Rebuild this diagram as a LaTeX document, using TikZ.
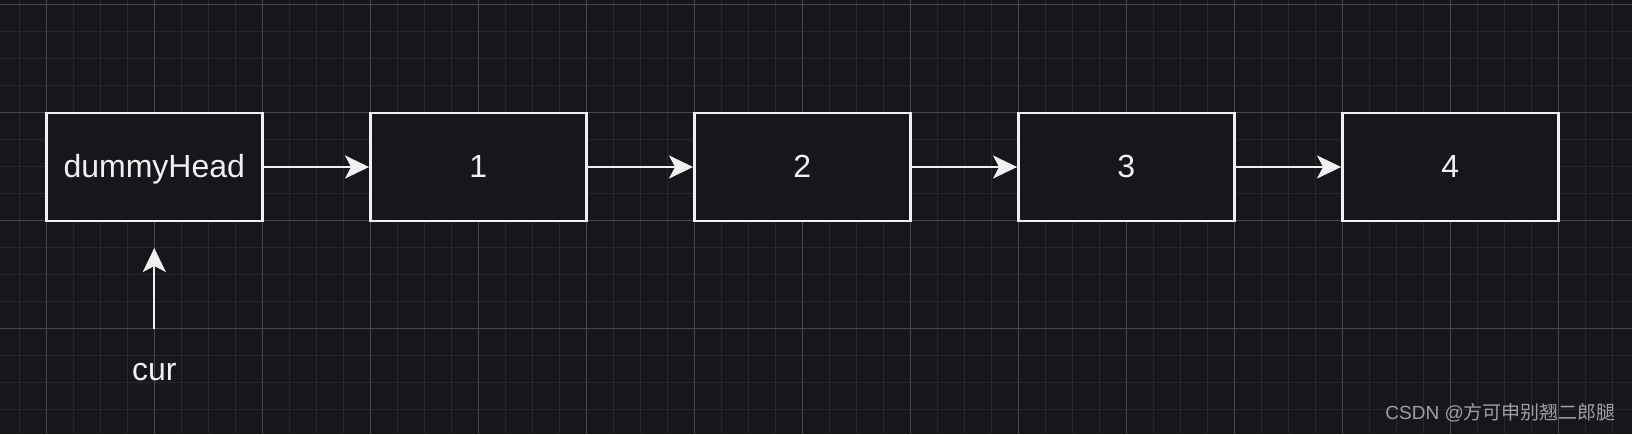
\documentclass[tikz,border=0pt]{standalone}
\usepackage{fontspec}
\setmainfont{Liberation Sans}
\newfontfamily\cjkfont{Noto Sans CJK SC}
\usetikzlibrary{arrows.meta}
\definecolor{bgc}{RGB}{24,22,28}
\definecolor{minorc}{RGB}{40,39,45}
\definecolor{majorc}{RGB}{72,71,76}
\definecolor{fgc}{RGB}{240,240,240}
\definecolor{wmc}{RGB}{160,160,160}
\tikzset{
  listbox/.style={draw=fgc, fill=bgc, line width=2.5pt, minimum width=216pt, minimum height=108pt, inner sep=0pt, text=fgc, font=\fontsize{32}{38}\selectfont, text height=24pt, text depth=4pt},
  linkarrow/.style={draw=fgc, line width=2.2pt, -{Stealth[length=24pt,width=23pt,inset=6pt]}},
  lbl/.style={text=fgc, font=\fontsize{32}{38}\selectfont, inner sep=0pt},
}
\begin{document}
\begin{tikzpicture}[x=1pt,y=-1pt]
\useasboundingbox (0,0) rectangle (1632,434);
\fill[bgc] (0,0) rectangle (1632,434);
% minor grid
\foreach \i in {0,...,60} { \draw[minorc, line width=1pt] ({19.3+27*\i},0) -- ({19.3+27*\i},434); }
\foreach \j in {0,...,16} { \draw[minorc, line width=1pt] (0,{4.3+27*\j}) -- (1632,{4.3+27*\j}); }
% major grid
\foreach \i in {0,...,14} { \draw[majorc, line width=1pt] ({46.3+108*\i},0) -- ({46.3+108*\i},434); }
\foreach \j in {0,...,3} { \draw[majorc, line width=1pt] (0,{4.3+108*\j}) -- (1632,{4.3+108*\j}); }
% nodes
\node[listbox] (dh) at (154.3,167) {dummyHead};
\node[listbox] (n1) at (478.3,167) {1};
\node[listbox] (n2) at (802.3,167) {2};
\node[listbox] (n3) at (1126.3,167) {3};
\node[listbox] (n4) at (1450.3,167) {4};
\draw[linkarrow] (dh) -- (n1);
\draw[linkarrow] (n1) -- (n2);
\draw[linkarrow] (n2) -- (n3);
\draw[linkarrow] (n3) -- (n4);
\node[lbl] (cur) at (154.3,372) {cur};
\coordinate (curstart) at (154.3,329);
\coordinate (curend) at (154.3,248);
\draw[linkarrow] (curstart) -- (curend);
\node[text=wmc, font=\fontsize{19}{22}\selectfont, anchor=east, inner sep=0pt] (wm) at (1616,413) {CSDN @\cjkfont 方可申别翘二郎腿};
\end{tikzpicture}
\end{document}
